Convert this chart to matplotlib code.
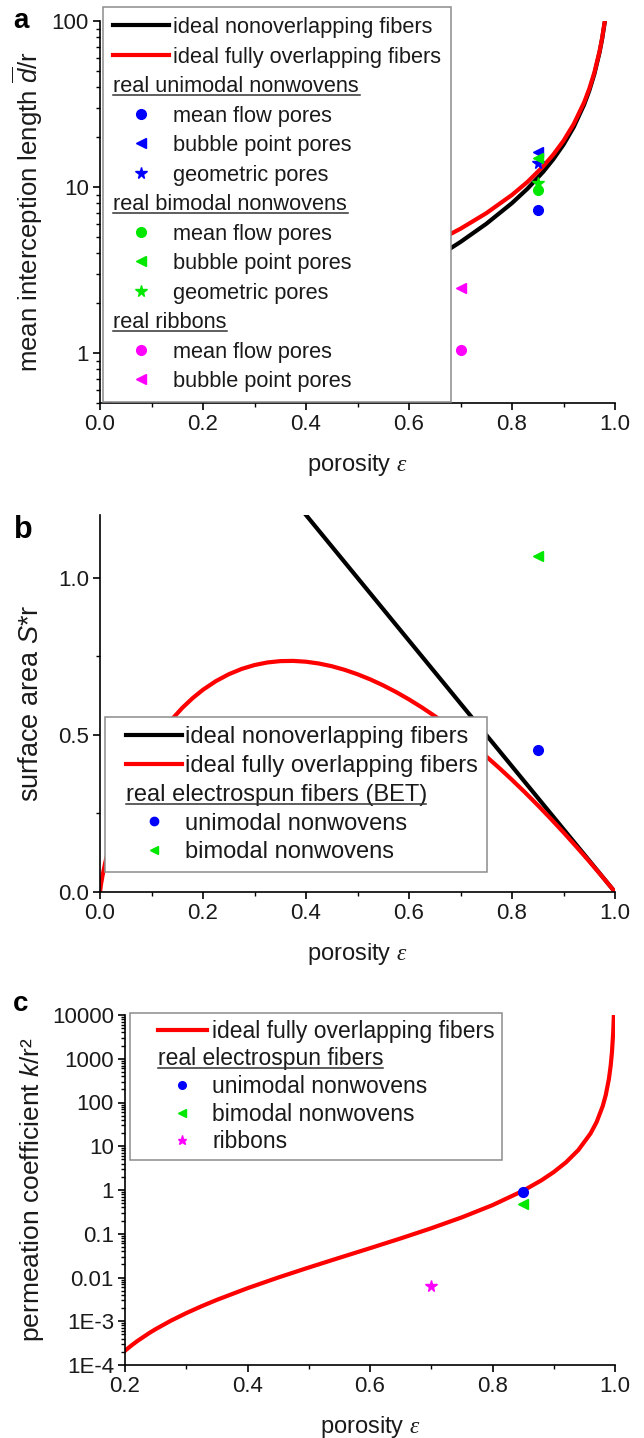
import matplotlib
matplotlib.use("Agg")
import matplotlib.pyplot as plt
from matplotlib.lines import Line2D
from matplotlib.text import Text
from matplotlib.legend_handler import HandlerBase, HandlerLine2D
from matplotlib.textpath import TextToPath
from matplotlib.font_manager import FontProperties
from matplotlib.ticker import FixedLocator, NullFormatter, LogLocator

plt.rcParams.update({
    "font.family": ["Liberation Sans", "DejaVu Sans"],
    "font.size": 16,
    "mathtext.fontset": "custom",
    "mathtext.rm": "Liberation Sans",
    "mathtext.it": "Liberation Serif:italic",
    "mathtext.sf": "Liberation Sans:italic",
    "axes.linewidth": 1.2,
})

# ---------------- data ----------------
# panel a: mean interception length d/r
a_black_eps = [0.20, 0.25, 0.30, 0.35, 0.40, 0.45, 0.50, 0.55, 0.60, 0.65, 0.70, 0.75,
               0.80, 0.83, 0.86, 0.88, 0.90, 0.92, 0.94, 0.95, 0.96, 0.97, 0.975, 0.98]
a_black_val = [0.50, 0.667, 0.857, 1.077, 1.333, 1.636, 2.00, 2.444, 3.00, 3.714, 4.667, 6.00,
               8.00, 9.765, 12.29, 14.67, 18.0, 23.0, 31.33, 38.0, 48.0, 64.7, 78.0, 98.0]
a_red_eps = [0.02, 0.03, 0.04, 0.05, 0.07, 0.10, 0.13, 0.16, 0.20, 0.25, 0.30, 0.35, 0.40,
             0.45, 0.50, 0.55, 0.60, 0.65, 0.70, 0.75, 0.80, 0.83, 0.86, 0.88, 0.90, 0.92,
             0.94, 0.95, 0.96, 0.97, 0.975, 0.98]
a_red_val = [0.511, 0.570, 0.621, 0.668, 0.752, 0.869, 0.980, 1.091, 1.243, 1.443, 1.661,
             1.905, 2.183, 2.505, 2.885, 3.345, 3.915, 4.643, 5.607, 6.952, 8.963, 10.73,
             13.26, 15.65, 18.98, 23.99, 32.32, 39.0, 49.0, 65.7, 79.0, 99.0]
a_uni_eps = [0.85]
a_uni_meanflow = [7.3]
a_uni_bubble = [16.2]
a_uni_geometric = [13.9]
a_bi_eps = [0.85]
a_bi_meanflow = [9.55]
a_bi_bubble = [14.9]
a_bi_geometric = [10.5]
a_rib_eps = [0.70]
a_rib_meanflow = [1.05]
a_rib_bubble = [2.45]

# panel b: surface area S*r
b_black_eps = [0.30, 1.00]
b_black_val = [1.40, 0.00]
b_red_eps = [0.0, 0.002, 0.005, 0.01, 0.015, 0.02, 0.03, 0.04, 0.05, 0.06, 0.07, 0.08, 0.09,
             0.10, 0.12, 0.14, 0.16, 0.18, 0.20, 0.225, 0.25, 0.275, 0.30, 0.325, 0.35, 0.375,
             0.40, 0.425, 0.45, 0.475, 0.50, 0.525, 0.55, 0.575, 0.60, 0.625, 0.65, 0.675,
             0.70, 0.725, 0.75, 0.775, 0.80, 0.825, 0.85, 0.875, 0.90, 0.925, 0.95, 0.975, 1.00]
b_red_val = [0.0, 0.0249, 0.0530, 0.0921, 0.1260, 0.1565, 0.2104, 0.2575, 0.2996, 0.3376,
             0.3723, 0.4041, 0.4334, 0.4605, 0.5089, 0.5505, 0.5864, 0.6173, 0.6438, 0.6712,
             0.6931, 0.7100, 0.7224, 0.7306, 0.7349, 0.7356, 0.7330, 0.7273, 0.7187, 0.7072,
             0.6931, 0.6766, 0.6576, 0.6364, 0.6130, 0.5875, 0.5600, 0.5306, 0.4994, 0.4663,
             0.4315, 0.3951, 0.3570, 0.3174, 0.2763, 0.2337, 0.1897, 0.1442, 0.0975, 0.0494, 0.0]
b_uni_eps = [0.85]
b_uni_val = [0.452]
b_bi_eps = [0.85]
b_bi_val = [1.07]

# panel c: permeation coefficient k/r^2
c_red_eps = [0.20, 0.21, 0.22, 0.24, 0.25, 0.275, 0.30, 0.325, 0.35, 0.40, 0.45, 0.50, 0.55,
             0.60, 0.65, 0.70, 0.75, 0.80, 0.85, 0.88, 0.90, 0.92, 0.94, 0.96, 0.97, 0.98,
             0.985, 0.99, 0.993, 0.995, 0.997, 0.998, 0.9983]
c_red_val = [2.121e-4, 2.762e-4, 3.519e-4, 5.424e-4, 6.60e-4, 1.031e-3, 1.535e-3, 2.205e-3,
             3.084e-3, 5.693e-3, 9.97e-3, 0.01691, 0.02819, 0.04677, 0.07819, 0.1335, 0.2372,
             0.4507, 0.9623, 1.669, 2.572, 4.293, 8.142, 19.51, 35.79, 83.04, 149.9, 342.4,
             705.2, 1391.0, 3886.0, 8770.0, 12150.0]
c_uni_eps = [0.85]
c_uni_val = [0.92]
c_bi_eps = [0.85]
c_bi_val = [0.48]
c_rib_eps = [0.70]
c_rib_val = [0.0065]

# ticks
a_xticks = [0.0, 0.2, 0.4, 0.6, 0.8, 1.0]
a_xticklabels = ["0.0", "0.2", "0.4", "0.6", "0.8", "1.0"]
a_yticks = [1, 10, 100]
a_yticklabels = ["1", "10", "100"]
b_yticks = [0.0, 0.5, 1.0]
b_yticklabels = ["0.0", "0.5", "1.0"]
c_xticks = [0.2, 0.4, 0.6, 0.8, 1.0]
c_xticklabels = ["0.2", "0.4", "0.6", "0.8", "1.0"]
c_yticks = [1e-4, 1e-3, 1e-2, 1e-1, 1, 10, 100, 1000, 10000]
c_yticklabels = ["1E-4", "1E-3", "0.01", "0.1", "1", "10", "100", "1000", "10000"]

BLUE = "#0000ff"
GREEN = "#00e800"
MAGENTA = "#ff00ff"
RED = "#ff0000"
BLACK = "#000000"
TXT = "#1a1a1a"


class Header:
    def __init__(self, text):
        self.text = text


class HeaderHandler(HandlerBase):
    def __init__(self, xoff=0.0):
        super().__init__()
        self.xoff = xoff

    def legend_artist(self, legend, orig_handle, fontsize, handlebox):
        x0 = self.xoff * fontsize
        t = Text(x0, 0, orig_handle.text, fontsize=fontsize, va="baseline", ha="left", color=TXT)
        w = TextToPath().get_text_width_height_descent(
            orig_handle.text, FontProperties(family=plt.rcParams["font.family"], size=fontsize),
            ismath=False)[0]
        ln = Line2D([x0, x0 + w], [-0.13 * fontsize] * 2, color="#333333", lw=1.1)
        handlebox.add_artist(t)
        handlebox.add_artist(ln)
        return t


W, H = 644, 1438
fig = plt.figure(figsize=(W / 100, H / 100), dpi=100)


def add_ax(left, right, top, bottom):
    return fig.add_axes([left / W, 1 - bottom / H, (right - left) / W, (bottom - top) / H])


def style(ax):
    for s in ("top", "right"):
        ax.spines[s].set_visible(False)
    ax.tick_params(which="major", direction="out", length=5, width=1.2, labelsize=16, pad=3,
                   labelcolor=TXT)
    ax.tick_params(which="minor", direction="out", length=3, width=1.0)


def make_legend(ax, handles, labels, px_left, px_top, fs, handlelength, textpad, xpad, spacing,
                borderpad):
    lg = ax.legend(handles, labels, loc="upper left",
                   bbox_to_anchor=(px_left / W, 1 - px_top / H), bbox_transform=fig.transFigure,
                   fontsize=fs, handlelength=handlelength, handletextpad=textpad,
                   borderpad=borderpad, labelspacing=spacing, fancybox=False, framealpha=1,
                   edgecolor="#8c8c8c", borderaxespad=0,
                   handler_map={Header: HeaderHandler(xpad), Line2D: HandlerLine2D(xpad=xpad)})
    lg.get_frame().set_linewidth(1.1)
    lg.set_zorder(5)
    for t in lg.get_texts():
        t.set_color(TXT)
    return lg


LW = 3.0
XL = 17

# ---------------- panel a ----------------
ax = add_ax(100, 615, 21, 403)
style(ax)
ax.set_yscale("log")
ax.plot(a_black_eps, a_black_val, color=BLACK, lw=LW)
ax.plot(a_red_eps, a_red_val, color=RED, lw=LW)
ax.plot(a_uni_eps, a_uni_meanflow, "o", color=BLUE, ms=7, zorder=4)
ax.plot(a_uni_eps, a_uni_bubble, "<", color=BLUE, ms=7.5, zorder=4)
ax.plot(a_uni_eps, a_uni_geometric, "*", color=BLUE, ms=8.5, zorder=4)
ax.plot(a_bi_eps, a_bi_meanflow, "o", color=GREEN, ms=7, zorder=4)
ax.plot(a_bi_eps, a_bi_bubble, "<", color=GREEN, ms=7.5, zorder=4)
ax.plot(a_bi_eps, a_bi_geometric, "*", color=GREEN, ms=8.5, zorder=4)
ax.plot(a_rib_eps, a_rib_meanflow, "o", color=MAGENTA, ms=7, zorder=4)
ax.plot(a_rib_eps, a_rib_bubble, "<", color=MAGENTA, ms=7.5, zorder=4)
ax.set_xlim(0, 1.0)
ax.set_ylim(0.5, 100)
ax.set_xticks(a_xticks, a_xticklabels)
ax.xaxis.set_minor_locator(FixedLocator([0.1, 0.3, 0.5, 0.7, 0.9]))
ax.set_yticks(a_yticks, a_yticklabels)
ax.yaxis.set_minor_locator(LogLocator(base=10, subs=(2, 3, 4, 5, 6, 7, 8, 9), numticks=50))
ax.yaxis.set_minor_formatter(NullFormatter())
ax.set_xlabel(r"porosity $\varepsilon$", fontsize=XL, labelpad=12, color=TXT)
ax.set_ylabel(r"mean interception length $\overline{\mathsf{d}}$/r", fontsize=18.5, labelpad=5,
              color=TXT)
fig.text(13 / W, 1 - 21 / H, "a", fontsize=20, fontweight="bold", va="center", ha="left")

handles = [
    Line2D([], [], color=BLACK, lw=LW),
    Line2D([], [], color=RED, lw=LW),
    Header("real unimodal nonwovens"),
    Line2D([], [], ls="", marker="o", color=BLUE, ms=7),
    Line2D([], [], ls="", marker="<", color=BLUE, ms=7.5),
    Line2D([], [], ls="", marker="*", color=BLUE, ms=8.5),
    Header("real bimodal nonwovens"),
    Line2D([], [], ls="", marker="o", color=GREEN, ms=7),
    Line2D([], [], ls="", marker="<", color=GREEN, ms=7.5),
    Line2D([], [], ls="", marker="*", color=GREEN, ms=8.5),
    Header("real ribbons"),
    Line2D([], [], ls="", marker="o", color=MAGENTA, ms=7),
    Line2D([], [], ls="", marker="<", color=MAGENTA, ms=7.5),
]
labels = ["ideal nonoverlapping fibers", "ideal fully overlapping fibers", "",
          "mean flow pores", "bubble point pores", "geometric pores", "",
          "mean flow pores", "bubble point pores", "geometric pores", "",
          "mean flow pores", "bubble point pores"]
make_legend(ax, handles, labels, 102.7, 7, 15.7, 2.56, 0.21, 0.0, 0.39, 0.46)

# ---------------- panel b ----------------
ax = add_ax(100, 615, 515, 892)
style(ax)
ax.plot(b_black_eps, b_black_val, color=BLACK, lw=LW)
ax.plot(b_red_eps, b_red_val, color=RED, lw=LW)
ax.plot(b_uni_eps, b_uni_val, "o", color=BLUE, ms=7, zorder=4)
ax.plot(b_bi_eps, b_bi_val, "<", color=GREEN, ms=7.5, zorder=4)
ax.set_xlim(0, 1.0)
ax.set_ylim(0, 1.2)
ax.set_xticks(a_xticks, a_xticklabels)
ax.xaxis.set_minor_locator(FixedLocator([0.1, 0.3, 0.5, 0.7, 0.9]))
ax.set_yticks(b_yticks, b_yticklabels)
ax.yaxis.set_minor_locator(FixedLocator([0.25, 0.75]))
ax.set_xlabel(r"porosity $\varepsilon$", fontsize=XL, labelpad=12, color=TXT)
ax.set_ylabel(r"surface area $\mathsf{S}$*r", fontsize=19.5, labelpad=10, color=TXT)
fig.text(14 / W, 1 - 530 / H, "b", fontsize=22, fontweight="bold", va="center", ha="left")
handles = [
    Line2D([], [], color=BLACK, lw=LW),
    Line2D([], [], color=RED, lw=LW),
    Header("real electrospun fibers (BET)"),
    Line2D([], [], ls="", marker="o", color=BLUE, ms=6),
    Line2D([], [], ls="", marker="<", color=GREEN, ms=6),
]
labels = ["ideal nonoverlapping fibers", "ideal fully overlapping fibers", "",
          "unimodal nonwovens", "bimodal nonwovens"]
make_legend(ax, handles, labels, 105, 717, 17, 2.87, 0.15, 0.5, 0.29, 0.38)

# ---------------- panel c ----------------
ax = add_ax(125, 615, 1015, 1365)
style(ax)
ax.set_yscale("log")
ax.plot(c_red_eps, c_red_val, color=RED, lw=LW)
ax.plot(c_uni_eps, c_uni_val, "o", color=BLUE, ms=7, zorder=4)
ax.plot(c_bi_eps, c_bi_val, "<", color=GREEN, ms=7.5, zorder=4)
ax.plot(c_rib_eps, c_rib_val, "*", color=MAGENTA, ms=8.5, zorder=4)
ax.set_xlim(0.2, 1.0)
ax.set_ylim(1e-4, 1e4)
ax.set_xticks(c_xticks, c_xticklabels)
ax.xaxis.set_minor_locator(FixedLocator([0.3, 0.5, 0.7, 0.9]))
ax.set_yticks(c_yticks, c_yticklabels)
ax.yaxis.set_minor_locator(LogLocator(base=10, subs=(2, 3, 4, 5, 6, 7, 8, 9), numticks=100))
ax.yaxis.set_minor_formatter(NullFormatter())
ax.set_xlabel(r"porosity $\varepsilon$", fontsize=XL, labelpad=12, color=TXT)
ax.set_ylabel(r"permeation coefficient $\mathsf{k}$/r²", fontsize=19, labelpad=4, color=TXT)
fig.text(13 / W, 1 - 1004 / H, "c", fontsize=20, fontweight="bold", va="center", ha="left")
handles = [
    Line2D([], [], color=RED, lw=LW),
    Header("real electrospun fibers"),
    Line2D([], [], ls="", marker="o", color=BLUE, ms=5.5),
    Line2D([], [], ls="", marker="<", color=GREEN, ms=5.5),
    Line2D([], [], ls="", marker="*", color=MAGENTA, ms=6.5),
]
labels = ["ideal fully overlapping fibers", "", "unimodal nonwovens", "bimodal nonwovens",
          "ribbons"]
make_legend(ax, handles, labels, 130, 1013, 16.5, 3.05, 0.25, 0.92, 0.2, 0.3)

fig.savefig("out.png", dpi=100)
